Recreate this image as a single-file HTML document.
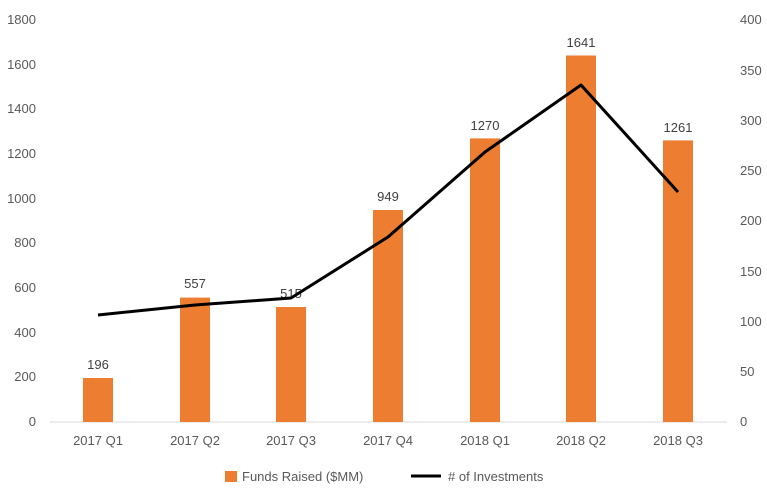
<!DOCTYPE html>
<html><head><style>body{margin:0;background:#fff}svg text{font-family:"Liberation Sans",Arial,sans-serif;fill:#595959;font-size:13px}</style></head>
<body>
<svg width="767" height="498" xmlns="http://www.w3.org/2000/svg">
<g text-anchor="end">
<text x="36" y="426">0</text><text x="36" y="381">200</text><text x="36" y="337">400</text><text x="36" y="292">600</text><text x="36" y="247">800</text><text x="36" y="203">1000</text><text x="36" y="158">1200</text><text x="36" y="113">1400</text><text x="36" y="69">1600</text><text x="36" y="24">1800</text>
</g>
<g text-anchor="start">
<text x="740" y="426">0</text><text x="740" y="376">50</text><text x="740" y="326">100</text><text x="740" y="276">150</text><text x="740" y="225">200</text><text x="740" y="175">250</text><text x="740" y="125">300</text><text x="740" y="75">350</text><text x="740" y="24">400</text>
</g>
<line x1="50" y1="422" x2="727" y2="422" stroke="#d9d9d9" stroke-width="1"/>
<g fill="#ed7d31">
<rect x="83" y="378" width="30" height="44"/>
<rect x="180" y="297.6" width="30" height="124.4"/>
<rect x="276" y="307" width="30" height="115"/>
<rect x="373" y="210" width="30" height="212"/>
<rect x="470" y="138.4" width="30" height="283.6"/>
<rect x="566" y="55.5" width="30" height="366.5"/>
<rect x="663" y="140.4" width="30" height="281.6"/>
</g>
<g text-anchor="middle" style="font-size:14px">
<text x="98" y="369" style="fill:#404040">196</text>
<text x="195" y="288" style="fill:#404040">557</text>
<text x="291" y="298" style="fill:#404040">515</text>
<text x="388" y="201" style="fill:#404040">949</text>
<text x="485" y="130" style="fill:#404040">1270</text>
<text x="581" y="47" style="fill:#404040">1641</text>
<text x="678" y="132" style="fill:#404040">1261</text>
</g>
<polyline points="98,315 195,305 291,298 388,237 485,152 581,85 678,192" fill="none" stroke="#000" stroke-width="3" stroke-linejoin="round"/>
<g text-anchor="middle">
<text x="98" y="445">2017 Q1</text><text x="195" y="445">2017 Q2</text><text x="291" y="445">2017 Q3</text><text x="388" y="445">2017 Q4</text><text x="485" y="445">2018 Q1</text><text x="581" y="445">2018 Q2</text><text x="678" y="445">2018 Q3</text>
</g>
<rect x="225" y="471" width="12" height="11" fill="#ed7d31"/>
<text x="242" y="481">Funds Raised ($MM)</text>
<line x1="411" y1="476" x2="441" y2="476" stroke="#000" stroke-width="3"/>
<text x="448" y="481"># of Investments</text>
</svg>
</body></html>
